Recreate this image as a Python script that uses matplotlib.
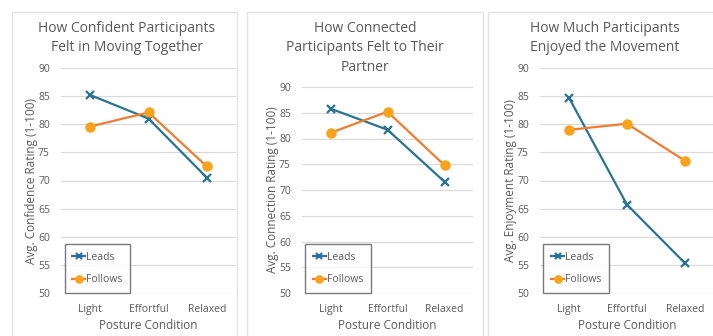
import matplotlib
matplotlib.use("Agg")
import matplotlib.pyplot as plt
from matplotlib.patches import Rectangle

plt.rcParams['font.family'] = ['Open Sans', 'DejaVu Sans']

categories = ["Light", "Effortful", "Relaxed"]
series_names = ["Leads", "Follows"]

confidence_leads = [85.2, 81.0, 70.5]
confidence_follows = [79.6, 82.1, 72.5]
connection_leads = [85.8, 81.7, 71.6]
connection_follows = [81.1, 85.2, 74.8]
enjoyment_leads = [84.7, 65.7, 55.3]
enjoyment_follows = [79.0, 80.1, 73.5]

titles = [
    "How Confident Participants\nFelt in Moving Together",
    "How Connected\nParticipants Felt to Their\nPartner",
    "How Much Participants\nEnjoyed the Movement",
]
ylabels = [
    "Avg. Confidence Rating (1-100)",
    "Avg. Connection Rating (1-100)",
    "Avg. Enjoyment Rating (1-100)",
]
xlabel = "Posture Condition"
yticks = [50, 55, 60, 65, 70, 75, 80, 85, 90]

W, H = 713, 336
fig = plt.figure(figsize=(W / 100, H / 100), dpi=100)
fig.patch.set_facecolor("white")

LEAD_C = "#2A7391"
FOLLOW_LINE = "#EE7D31"
FOLLOW_FACE = "#F9A21B"
TEXT_C = "#595959"
GRID_C = "#D9D9D9"

# panel frames (pixel boxes: left, top, right)
frames = [(12, 12, 237), (247, 12, 483), (488, 12, 720)]
# plot areas (pixel: left, right, y of 90, y of 50)
areas = [(61, 236, 68, 293), (302, 473, 87, 293), (540, 714, 68, 293)]
# horizontal centre of each title
title_x = [127, 365, 605]

data = [
    (confidence_leads, confidence_follows),
    (connection_leads, connection_follows),
    (enjoyment_leads, enjoyment_follows),
]

def fx(px):
    return px / W

def fy(py):
    return 1 - py / H

for i in range(3):
    l, t, r = frames[i]
    fig.patches.append(Rectangle((fx(l), fy(H + 5)), fx(r - l), fy(t) - fy(H + 5),
                                 transform=fig.transFigure, fill=False,
                                 edgecolor="#E3E3E3", lw=1.0, zorder=0))
    al, ar, ytop, ybot = areas[i]
    ax = fig.add_axes([fx(al), fy(ybot), fx(ar - al), fy(ytop) - fy(ybot)])
    ax.set_facecolor("none")
    leads, follows = data[i]
    x = list(range(len(categories)))
    ax.plot(x, leads, color=LEAD_C, lw=1.6, marker="x", ms=6, mew=1.6,
            label=series_names[0], zorder=3)
    ax.plot(x, follows, color=FOLLOW_LINE, lw=1.6, marker="o", ms=6.5,
            mfc=FOLLOW_FACE, mec=FOLLOW_FACE, label=series_names[1], zorder=3)
    ax.set_xlim(-0.5, 2.5)
    ax.set_ylim(50, 90)
    ax.set_yticks(yticks)
    ax.set_xticks(x)
    ax.set_xticklabels(categories)
    ax.tick_params(length=0, labelsize=7.5, colors=TEXT_C, pad=8)
    ax.tick_params(axis="y", pad=8)
    for s in ax.spines.values():
        s.set_visible(False)
    ax.grid(axis="y", color=GRID_C, lw=0.8)
    ax.set_axisbelow(True)
    ax.set_xlabel(xlabel, fontsize=8.5, color=TEXT_C, labelpad=3)
    ax.set_ylabel(ylabels[i], fontsize=8.5, color=TEXT_C, labelpad=0)
    leg = ax.legend(loc="lower left", bbox_to_anchor=(0.02, 0.0), fontsize=7.5,
                    frameon=True, fancybox=False, edgecolor="#595959",
                    handlelength=1.2, handletextpad=0.1, borderpad=0.75,
                    labelspacing=1.1, borderaxespad=0.0, markerscale=0.8)
    leg.get_frame().set_linewidth(1.0)
    for txt in leg.get_texts():
        txt.set_color(TEXT_C)
    fig.text(fx(title_x[i]), fy(21), titles[i], ha="center", va="top",
             fontsize=10, color=TEXT_C, linespacing=1.4)

fig.savefig("out.png", dpi=100, facecolor="white")
